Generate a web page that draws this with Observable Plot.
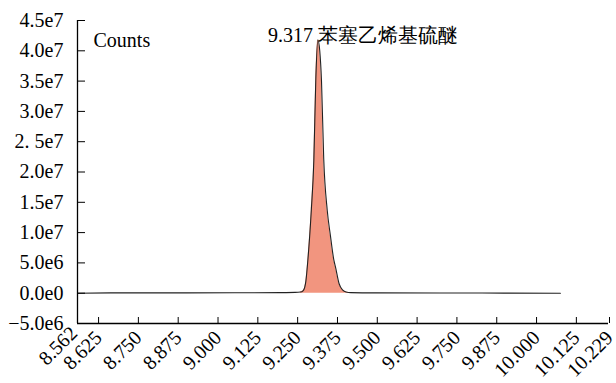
<!DOCTYPE html>
<html>
<head>
<meta charset="utf-8">
<script src="https://cdn.jsdelivr.net/npm/d3@7"></script>
<script src="https://cdn.jsdelivr.net/npm/@observablehq/plot@0.6"></script>
<style>
  html, body { margin: 0; padding: 0; background: #fff; }
  #chart svg { display: block; }
</style>
</head>
<body>
<div id="chart"></div>
<script>
// Retention time (min)
const rt = [8.562, 8.70, 8.90, 9.10, 9.20, 9.245, 9.262, 9.270, 9.2755, 9.279, 9.2851, 9.296, 9.304, 9.310, 9.3165, 9.3225, 9.328, 9.335, 9.346, 9.356, 9.367, 9.372, 9.383, 9.395, 9.405, 9.42, 9.50, 9.70, 9.90, 10.078];
// Counts
const counts = [0, 0.05e6, 0.05e6, 0.08e6, 0.1e6, 0.13e6, 0.2e6, 0.4e6, 1.0e6, 2.0e6, 5.4e6, 13.7e6, 22.0e6, 35.0e6, 41.8e6, 40.0e6, 35.0e6, 22.2e6, 13.7e6, 9.5e6, 5.4e6, 4.3e6, 1.6e6, 0.5e6, 0.2e6, 0.1e6, 0.05e6, 0.03e6, 0.02e6, 0];
// Peak fill range
const peakStart = 9.255, peakEnd = 9.42;
const peakLabel = "9.317 苯塞乙烯基硫醚";
const peakRt = 9.317;
const yLabel = "Counts";

const xTicks = [8.562, 8.625, 8.750, 8.875, 9.000, 9.125, 9.250, 9.375, 9.500, 9.625, 9.750, 9.875, 10.000, 10.125, 10.229];
const yTicks = [4.5e7, 4.0e7, 3.5e7, 3.0e7, 2.5e7, 2.0e7, 1.5e7, 1.0e7, 5.0e6, 0, -5.0e6];
const yTickLabels = ["4.5e7", "4.0e7", "3.5e7", "3.0e7", "2. 5e7", "2.0e7", "1.5e7", "1.0e7", "5.0e6", "0.0e0", "\u22125.0e6"];

const data = rt.map((t, i) => ({t, c: counts[i]}));
const peak = data.filter(d => d.t >= peakStart && d.t <= peakEnd);
const xMin = xTicks[0], xMax = xTicks[xTicks.length - 1];
const yMin = yTicks[yTicks.length - 1], yMax = yTicks[0];

const FF = "serif";

const chart = Plot.plot({
  width: 616,
  height: 383,
  marginLeft: 77,
  marginRight: 8,
  marginTop: 20,
  marginBottom: 60,
  style: {fontSize: "20px", color: "#000", background: "#fff", fontFamily: FF},
  x: {domain: [xMin, xMax]},
  y: {domain: [yMin, yMax]},
  marks: [
    Plot.areaY(peak, {x: "t", y: "c", fill: "#F2957F", curve: "monotone-x"}),
    Plot.line(data, {x: "t", y: "c", stroke: "#222", strokeWidth: 1.1, curve: "monotone-x"}),
    Plot.ruleX([xMin], {stroke: "#000", strokeWidth: 1.3}),
    Plot.ruleY([yMin], {stroke: "#000", strokeWidth: 1.3}),
    Plot.axisY({
      ticks: yTicks,
      tickSize: -8,
      tickPadding: 22,
      tickFormat: (d) => yTickLabels[yTicks.indexOf(d)],
      label: null,
      fontSize: 20,
      fontFamily: FF,
      stroke: "#000"
    }),
    Plot.axisX({
      ticks: xTicks.slice(1),
      tickSize: -6,
      tickPadding: 17,
      dx: 1,
      tickRotate: -45,
      tickFormat: d3.format(".3f"),
      label: null,
      fontSize: 20,
      fontFamily: FF,
      stroke: "#000"
    }),
    Plot.text([xMin], {x: xMin, text: () => d3.format(".3f")(xMin), frameAnchor: "bottom", rotate: -45, textAnchor: "end", fontSize: 20, fontFamily: FF, dy: 11, dx: 1}),
    Plot.text([yLabel], {frameAnchor: "top-left", text: d => d, textAnchor: "start", dx: 16, dy: 12.6, fontSize: 20, fontFamily: FF}),
    Plot.text([peakLabel], {x: peakRt, frameAnchor: "top", text: d => d, textAnchor: "start", dx: -50, dy: 7, fontSize: 20, fontFamily: FF})
  ]
});
document.getElementById("chart").appendChild(chart);
</script>
</body>
</html>
